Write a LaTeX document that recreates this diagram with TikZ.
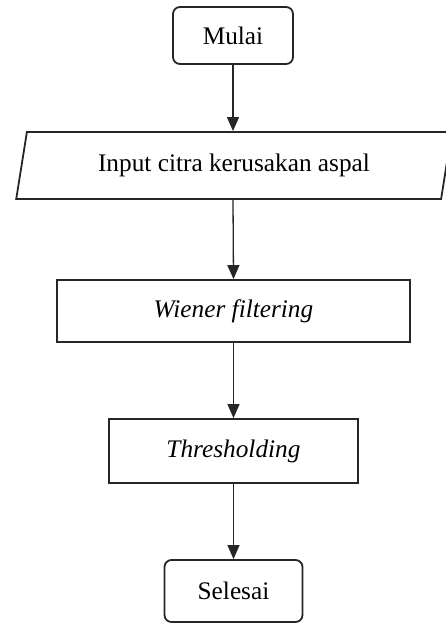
\documentclass[tikz,border=0pt]{standalone}
\usepackage{fontspec}
\setmainfont{Liberation Serif}
\usetikzlibrary{shapes.geometric,arrows.meta}
\begin{document}
\begin{tikzpicture}[x=1pt, y=-1pt,
  every node/.style={font=\fontsize{25.3}{30}\selectfont, inner sep=0pt},
  terminal/.style={draw=black!85, line width=1.8pt, rounded corners=7pt},
  process/.style={draw=black!85, line width=1.8pt},
  inputbox/.style={draw=black!85, line width=1.8pt, trapezium, trapezium stretches=true,
    trapezium left angle=73, trapezium right angle=107},
  flow/.style={draw=black!85, line width=1.3pt, -{Triangle[length=14pt, width=12pt]}}]
  \useasboundingbox (0,0) rectangle (446,624);
  % flowchart boxes
  \node[terminal, minimum width=120pt, minimum height=57pt] (mulai) at (233,35.5) {Mulai};
  \node[inputbox, minimum width=436pt, minimum height=67pt] (input) at (234,165.5) {Input citra kerusakan aspal};
  \node[process, minimum width=353pt, minimum height=62pt] (wiener) at (233.5,311) {\itshape Wiener filtering};
  \node[process, minimum width=249pt, minimum height=64pt] (thresh) at (233.5,451) {\itshape Thresholding};
  \node[terminal, minimum width=138pt, minimum height=62pt] (selesai) at (233.5,591) {Selesai};
  % arrows
  \draw[flow] (mulai.south) -- (mulai.south |- input.north);
  \draw[flow] (mulai.south |- input.south) -- (wiener.north);
  \draw[flow] (wiener.south) -- (thresh.north);
  \draw[flow] (thresh.south) -- (selesai.north);
\end{tikzpicture}
\end{document}
